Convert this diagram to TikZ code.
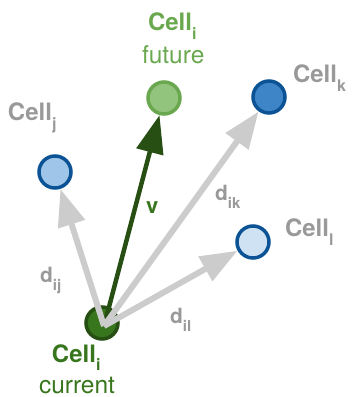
\documentclass[tikz,border=0pt]{standalone}
\usepackage{fontspec}
\setmainfont{TeX Gyre Heros}
\usetikzlibrary{arrows.meta}
\definecolor{grayarrow}{HTML}{CCCCCC}
\definecolor{graytext}{HTML}{999999}
\definecolor{futfill}{HTML}{93C47D}
\definecolor{futline}{HTML}{6AA84F}
\definecolor{curfill}{HTML}{38761D}
\definecolor{curline}{HTML}{274E13}
\definecolor{blueline}{HTML}{0B5394}
\definecolor{kfill}{HTML}{3D85C6}
\definecolor{jfill}{HTML}{9FC5E8}
\definecolor{lfill}{HTML}{CFE2F3}
\newcommand{\cellname}[2][9pt]{{\fontsize{24}{24}\selectfont\bfseries Cell}\raisebox{-#1}{\fontsize{16}{16}\selectfont\bfseries #2}}
\newcommand{\dname}[1]{{\fontsize{21}{21}\selectfont\bfseries d}\raisebox{-8pt}{\fontsize{15}{15}\selectfont\bfseries #1}}
\tikzset{
  cellnode/.style={circle, line width=3.5pt, minimum size=32pt, inner sep=0pt},
  lbl/.style={anchor=base west, inner sep=0pt, outer sep=0pt},
  grayarr/.style={draw=grayarrow, line width=6pt, -{Triangle[length=37pt,width=27pt]}, grayarrow},
  greenarr/.style={draw=curline, line width=4.5pt, -{Triangle[length=38pt,width=27pt]}, curline},
}
\begin{document}
\begin{tikzpicture}[x=1pt,y=-1pt]
\useasboundingbox (0,0) rectangle (352,397);
% circles
\node[cellnode, draw=curline, fill=curfill] (cur) at (102,323) {};
\node[cellnode, draw=futline, fill=futfill] (fut) at (164,98) {};
\node[cellnode, draw=blueline, fill=kfill] (ck) at (269,97) {};
\node[cellnode, draw=blueline, fill=jfill] (cj) at (55,172) {};
\node[cellnode, draw=blueline, fill=lfill] (cl) at (253,242) {};
\coordinate (o) at (104,326);
% arrows
\draw[greenarr] (o) -- (fut);
\draw[grayarr] (o) -- (cj);
\draw[grayarr] (o) -- (ck);
\draw[grayarr] (o) -- (cl);
% labels
\node[lbl, text=futline] (tfut) at (148,30) {\cellname{i}};
\node[lbl, text=futline, font=\fontsize{24.5}{24.5}\selectfont] (tfut2) at (142,63) {future};
\node[lbl, text=graytext] (tk) at (293,82) {\cellname{k}};
\node[lbl, text=graytext] (tj) at (8,120) {\cellname{j}};
\node[lbl, text=graytext] (tl) at (285,236) {\cellname{l}};
\node[lbl, text=curfill] (tcur) at (52,362) {\cellname[8pt]{i}};
\node[lbl, text=curfill, font=\fontsize{24.5}{24.5}\selectfont] (tcur2) at (39,393) {current};
\node[lbl, text=curfill, font=\fontsize{22}{22}\selectfont\bfseries] (tv) at (146,213) {v};
\node[lbl, text=graytext] (dij) at (40,282) {\dname{ij}};
\node[lbl, text=graytext] (dik) at (215,200) {\dname{ik}};
\node[lbl, text=graytext] (dil) at (170,323) {\dname{il}};
\end{tikzpicture}
\end{document}
